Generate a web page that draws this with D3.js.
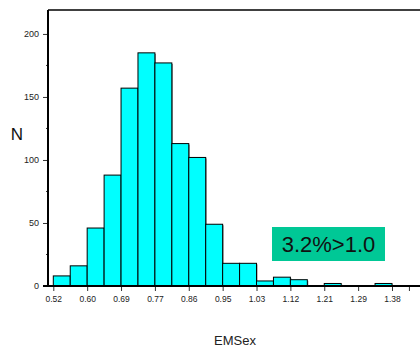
<!DOCTYPE html>
<html>
<head>
<meta charset="utf-8">
<script src="https://cdn.jsdelivr.net/npm/d3@7"></script>
<style>
  body { margin: 0; background: #fff; }
  svg { display: block; font-family: "Liberation Sans", Arial, sans-serif; }
</style>
</head>
<body>
<svg id="contenedor"></svg>
<script>
// datos del histograma (conteos por clase)
let inicioClase = 0.52;
let anchoClase = 0.0429;
let conteos = [8, 16, 46, 88, 157, 185, 177, 113, 102, 49, 18, 18, 4, 7, 5, 0, 2, 0, 0, 2];
let etiquetasX = ["0.52", "0.60", "0.69", "0.77", "0.86", "0.95", "1.03", "1.12", "1.21", "1.29", "1.38", ""];
let ticksY = [0, 50, 100, 150, 200];
let ticksYMenores = [25, 75, 125, 175];
let nota = "3.2%>1.0";

// configuracion del area de dibujo
let width = 420, height = 347;
let margin = { top: 10, left: 48, bottom: 61, right: 0 };
let svg = d3.select("#contenedor").attr("width", width).attr("height", height);

// escalas
let xScale = d3.scaleLinear()
  .domain([inicioClase, inicioClase + 20 * anchoClase])
  .range([53.3, 392]);
let yScale = d3.scaleLinear()
  .domain([0, 219])
  .range([height - margin.bottom, margin.top]);

let x0 = margin.left, y0 = yScale(0);
let anchoBarra = xScale(inicioClase + anchoClase) - xScale(inicioClase);

// sombra de las barras
svg.append("g")
  .selectAll("rect")
  .data(conteos)
  .join("rect")
  .attr("x", (d, i) => xScale(inicioClase + i * anchoClase) + 1)
  .attr("y", d => yScale(d) + 1)
  .attr("width", anchoBarra)
  .attr("height", d => y0 - yScale(d))
  .attr("fill", d => d > 0 ? "#888" : "none");

// barras
svg.append("g")
  .selectAll("rect")
  .data(conteos)
  .join("rect")
  .attr("x", (d, i) => xScale(inicioClase + i * anchoClase))
  .attr("y", d => yScale(d))
  .attr("width", anchoBarra)
  .attr("height", d => y0 - yScale(d))
  .attr("fill", d => d > 0 ? "#00ffff" : "none")
  .attr("stroke", d => d > 0 ? "#000" : "none")
  .attr("stroke-width", 1);

// linea superior del marco
svg.append("line")
  .attr("x1", x0).attr("x2", width)
  .attr("y1", margin.top).attr("y2", margin.top)
  .attr("stroke", "#000").attr("stroke-width", 1.5);

// eje Y
let axisY = d3.axisLeft(yScale).tickValues(ticksY).tickSize(5).tickPadding(4);
let gY = svg.append("g")
  .attr("transform", `translate(${x0},0)`)
  .call(axisY);
gY.select(".domain").remove();
gY.selectAll("text").attr("font-size", 9).attr("font-family", "Liberation Sans, Arial").attr("fill", "#222");
gY.selectAll("line").attr("stroke", "#333");

svg.append("g")
  .selectAll("line")
  .data(ticksYMenores)
  .join("line")
  .attr("x1", x0 - 2).attr("x2", x0)
  .attr("y1", d => yScale(d)).attr("y2", d => yScale(d))
  .attr("stroke", "#333");

svg.append("line")
  .attr("x1", x0).attr("x2", x0)
  .attr("y1", margin.top).attr("y2", y0)
  .attr("stroke", "#000").attr("stroke-width", 2);

// eje X
let valoresX = etiquetasX.map((d, i) => inicioClase + i * 2 * anchoClase);
valoresX[valoresX.length - 1] = inicioClase + 21 * anchoClase;
let axisX = d3.axisBottom(xScale)
  .tickValues(valoresX)
  .tickFormat((d, i) => etiquetasX[i])
  .tickSize(5).tickPadding(5);
let gX = svg.append("g")
  .attr("transform", `translate(0,${y0})`)
  .call(axisX);
gX.select(".domain").remove();
gX.selectAll("text").attr("font-size", 8.5).attr("font-family", "Liberation Sans, Arial").attr("fill", "#222");
gX.selectAll("line").attr("stroke", "#333");

svg.append("line")
  .attr("x1", x0 - 5).attr("x2", width)
  .attr("y1", y0).attr("y2", y0)
  .attr("stroke", "#000").attr("stroke-width", 2);

// titulos de ejes
svg.append("text")
  .attr("x", 17).attr("y", 140)
  .attr("text-anchor", "middle")
  .attr("font-size", 17)
  .attr("fill", "#111")
  .text("N");

svg.append("text")
  .attr("x", 235).attr("y", 345)
  .attr("text-anchor", "middle")
  .attr("font-size", 13)
  .attr("fill", "#222")
  .text("EMSex");

// nota
svg.append("rect")
  .attr("x", 272).attr("y", 227)
  .attr("width", 113).attr("height", 34)
  .attr("fill", "#00c896");
svg.append("text")
  .attr("x", 328.5).attr("y", 252)
  .attr("text-anchor", "middle")
  .attr("font-size", 22)
  .attr("fill", "#111")
  .text(nota);
</script>
</body>
</html>
